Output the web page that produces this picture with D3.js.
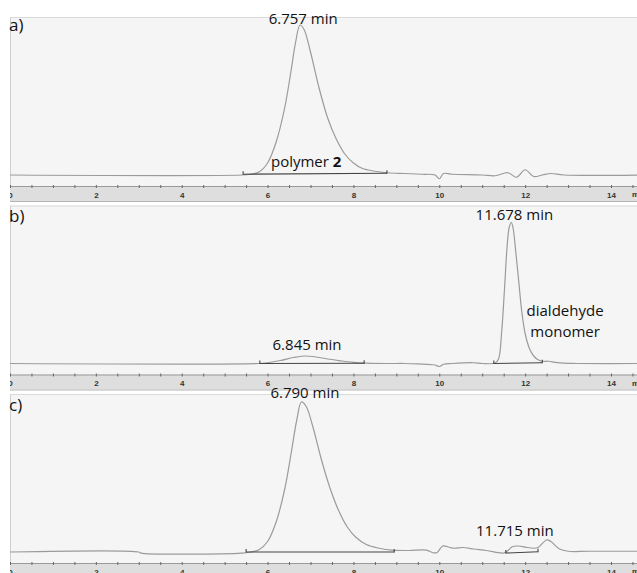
<!DOCTYPE html>
<html>
<head>
<meta charset="utf-8">
<script src="https://cdn.jsdelivr.net/npm/d3@7"></script>
<style>
  body { margin: 0; background: #fff; }
  text { font-family: "Open Sans", sans-serif; }
</style>
</head>
<body>
<svg id="chart" width="637" height="573"></svg>
<script>
// retention time (min), detector signal (arbitrary units, 0 = baseline)
let traceA = [
  [0, 0], [5.4, 0], [5.6, 0.5], [5.8, 2], [6.0, 8], [6.2, 22], [6.4, 45], [6.55, 70],
  [6.65, 88], [6.757, 100], [6.85, 97], [7.0, 82], [7.2, 58], [7.4, 38], [7.6, 24],
  [7.8, 14], [8.0, 8], [8.2, 4.5], [8.5, 2.5], [8.8, 1.5], [9.2, 1], [9.6, 0.5],
  [9.9, 0], [10.0, -2.5], [10.1, 1], [10.3, 0.5], [11.0, 0], [11.3, -0.5], [11.6, 1.5],
  [11.8, -1.5], [12.0, 3.5], [12.2, -1], [12.4, 0], [12.6, 1], [12.9, 0], [14.7, 0]
];
let traceB = [
  [0, 0], [5.8, 0], [6.0, 0.5], [6.3, 2], [6.6, 4], [6.845, 5], [7.1, 4.5], [7.4, 3],
  [7.7, 1.8], [8.0, 0.8], [8.3, 0.3], [8.8, 0], [9.2, 0], [9.5, -0.3], [9.9, -1],
  [10.0, -2], [10.1, -0.5], [10.3, 0], [10.8, 0.5], [11.0, 0], [11.3, 0.3], [11.38, 3],
  [11.45, 20], [11.52, 50], [11.58, 78], [11.63, 91], [11.678, 94], [11.72, 90],
  [11.78, 75], [11.85, 55], [11.92, 35], [12.0, 20], [12.1, 10], [12.2, 5], [12.3, 2.5],
  [12.4, 1.5], [12.55, 1.5], [12.7, 0.8], [12.9, 0.2], [13.2, 0], [14.7, 0]
];
let traceC = [
  [0, 0], [3.0, 0], [3.05, -0.7], [5.4, -0.7], [5.6, 0], [5.8, 1.5], [6.0, 7], [6.2, 20],
  [6.4, 42], [6.55, 66], [6.68, 88], [6.79, 100], [6.9, 97], [7.05, 84], [7.25, 62],
  [7.45, 43], [7.65, 28], [7.85, 17], [8.05, 10], [8.3, 5], [8.6, 2.5], [8.9, 1.2],
  [9.3, 1], [9.7, 1.3], [9.85, -0.5], [9.95, -0.3], [10.08, 4], [10.25, 3], [10.35, 2.5],
  [10.55, 3], [10.8, 2], [11.1, 1], [11.5, -0.7], [11.6, 1], [11.7, 3.5], [11.85, 4],
  [12.0, 3.3], [12.2, 2.5], [12.3, 3], [12.5, 8], [12.6, 7], [12.8, 2], [13.0, 0.5],
  [13.5, 0.5], [14.7, 0.5]
];

// integration baselines: [t start, v start, t end, v end]
let integA = [[5.43, 0.5, 8.78, 1.2]];
let integB = [[5.82, 0, 8.25, 0.2], [11.27, 0, 12.4, 0.5]];
let integC = [[5.5, 0, 8.95, 0], [11.55, -0.7, 12.3, 0.2]];

// annotations: [text, t centre, v baseline, bold part]
let labelsA = [["6.757 min", 6.83, 100.7], ["polymer ", 6.9, 5.3, "2"]];
let labelsB = [["11.678 min", 11.75, 95.7], ["6.845 min", 6.92, 9], ["dialdehyde", 12.93, 31.7], ["monomer", 12.93, 17.7]];
let labelsC = [["6.790 min", 6.87, 103], ["11.715 min", 11.76, 10.7]];

let panelNames = ["a)", "b)", "c)"];
let panelTops = [17, 205.5, 394];
let nameY = [31, 222, 411];
let majorTicks = [0, 2, 4, 6, 8, 10, 12, 14];

const W = 637;
const svg = d3.select('#chart');

const x = d3.scaleLinear().domain([0, 14]).range([10, 611]);

svg.append('defs').append('clipPath').attr('id', 'clip')
  .append('rect').attr('x', 10).attr('y', 0).attr('width', W - 10).attr('height', 573);

const panels = [
  { trace: traceA, integ: integA, labels: labelsA },
  { trace: traceB, integ: integB, labels: labelsB },
  { trace: traceC, integ: integC, labels: labelsC }
];

panels.forEach(function(p, i) {
  let top = panelTops[i];
  let base = top + 158;
  let axisY = top + 169;
  let y = d3.scaleLinear().domain([0, 100]).range([base, base - 150]);
  let g = svg.append('g').attr('clip-path', 'url(#clip)');

  // plot area
  g.append('rect').attr('x', 10).attr('y', top).attr('width', W - 10).attr('height', axisY - top)
    .attr('fill', '#f5f5f5');
  g.append('line').attr('x1', 10).attr('x2', W).attr('y1', top + 0.5).attr('y2', top + 0.5)
    .attr('stroke', '#dadada');
  g.append('line').attr('x1', 10.5).attr('x2', 10.5).attr('y1', top).attr('y2', axisY)
    .attr('stroke', '#cfcfcf');

  // axis band
  g.append('rect').attr('x', 10).attr('y', axisY).attr('width', W - 10).attr('height', 15)
    .attr('fill', '#dedede');
  g.append('line').attr('x1', 10).attr('x2', W).attr('y1', axisY + 0.5).attr('y2', axisY + 0.5)
    .attr('stroke', '#9a9a9a');
  g.append('line').attr('x1', 10).attr('x2', W).attr('y1', axisY + 15.5).attr('y2', axisY + 15.5)
    .attr('stroke', '#b5b5b5');

  let axis = d3.axisBottom(x)
    .tickValues(d3.range(0, 14.75, 0.5))
    .tickSize(3)
    .tickPadding(4)
    .tickFormat(function(d) { return majorTicks.includes(d) ? d : ''; });
  let ax = g.append('g').attr('transform', 'translate(0,' + (axisY - 1) + ')').call(axis);
  ax.select('.domain').remove();
  ax.selectAll('line').attr('stroke', '#666');
  ax.selectAll('text').attr('fill', '#333').style('font-family', 'Liberation Sans, Arial, sans-serif')
    .style('font-size', '8px').style('font-weight', 'bold');
  g.append('text').attr('x', 632).attr('y', axisY + 11).attr('fill', '#333')
    .style('font-family', 'Liberation Sans, Arial, sans-serif').style('font-size', '8px')
    .style('font-weight', 'bold').text('min');

  // signal
  let line = d3.line()
    .x(function(d) { return x(d[0]); })
    .y(function(d) { return y(d[1]); })
    .curve(d3.curveCatmullRom);
  g.append('path').datum(p.trace).attr('d', line)
    .attr('fill', 'none').attr('stroke', '#9b9b9b').attr('stroke-width', 1.2);

  // integration baselines
  p.integ.forEach(function(s) {
    g.append('line').attr('x1', x(s[0])).attr('x2', x(s[2]))
      .attr('y1', y(s[1])).attr('y2', y(s[3]))
      .attr('stroke', '#444').attr('stroke-width', 1.1);
    [[s[0], s[1]], [s[2], s[3]]].forEach(function(e) {
      g.append('line').attr('x1', x(e[0])).attr('x2', x(e[0]))
        .attr('y1', y(e[1]) + 0.5).attr('y2', y(e[1]) - 3)
        .attr('stroke', '#444').attr('stroke-width', 1.1);
    });
  });

  // annotations
  p.labels.forEach(function(l) {
    let t = g.append('text').attr('x', x(l[1])).attr('y', y(l[2]))
      .attr('text-anchor', 'middle').attr('fill', '#111').style('font-size', '15px');
    t.append('tspan').text(l[0]);
    if (l[3]) t.append('tspan').style('font-weight', 'bold').text(l[3]);
  });

  svg.append('text').attr('x', 9).attr('y', nameY[i]).attr('fill', '#111')
    .style('font-size', '17px').text(panelNames[i]);
});
</script>
</body>
</html>
